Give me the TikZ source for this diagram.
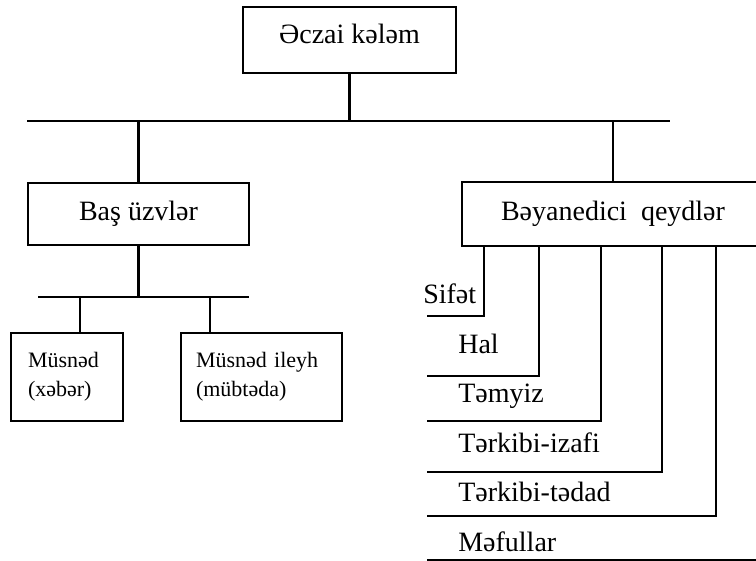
\documentclass[tikz,border=0pt]{standalone}
\usepackage{fontspec}
\setmainfont{Liberation Serif}
\usetikzlibrary{calc}

\begin{document}
\begin{tikzpicture}[x=0.5pt, y=-0.5pt, line width=1.3pt,
    box/.style={rectangle, draw, inner sep=0pt, font=\fontsize{14pt}{17pt}\selectfont},
    smallbox/.style={rectangle, draw, align=left, inner ysep=0pt, font=\fontsize{11pt}{14.5pt}\selectfont},
    lbl/.style={inner sep=0pt, anchor=base west, font=\fontsize{14pt}{17pt}\selectfont}]
    \clip (0,0) rectangle (756,561);

    \node[box, minimum width=106.5pt, minimum height=33pt, text depth=6pt] (top) at (349.5,40) {Əczai kələm};
    \coordinate (barL) at (27,121);
    \coordinate (barR) at (670,121);
    \draw (barL) -- (barR);
    \draw (top.south) -- (top.south |- barL);

    % left branch
    \node[box, minimum width=110.5pt, minimum height=31pt] (bas) at (138.5,214) {Baş üzvlər};
    \draw (bas.north) -- (bas.north |- barL);
    \coordinate (subL) at (38,297);
    \coordinate (subR) at (249,297);
    \draw (subL) -- (subR);
    \draw (bas.south) -- (bas.south |- subL);

    \node[smallbox, text width=39pt, inner xsep=8.5pt, minimum height=44pt] (mus) at (67,377) {Müsnəd\\(xəbər)};
    \node[smallbox, text width=65.5pt, inner xsep=7.5pt, minimum height=44pt] (ileyh) at (261.5,377) {Müsnəd ileyh\\(mübtəda)};
    \draw (80,0 |- subL) -- (80,0 |- mus.north);
    \draw (210,0 |- subL) -- (210,0 |- ileyh.north);

    % right branch
    \node[box, minimum width=151pt, minimum height=32pt] (bey) at (613,214) {Bəyanedici\ \ qeydlər};
    \draw (bey.north) -- (bey.north |- barL);

    \node[lbl] (sifet) at (422,304) {Sifət};
    \node[lbl] (hal) at (457,354) {Hal};
    \node[lbl] (temyiz) at (457,403) {Təmyiz};
    \node[lbl] (izafi) at (457,453) {Tərkibi-izafi};
    \node[lbl] (tedad) at (457,502) {Tərkibi-tədad};
    \node[lbl] (meful) at (457,552) {Məfullar};

    \foreach \x/\y [count=\i] in {484/316, 539/376, 601/421, 662/472, 716/516} {
        \coordinate (end\i) at (427,\y);
        \draw (\x,0 |- bey.south) |- (end\i);
    }
    \coordinate (end6) at (427,560);
    \draw (end6) -- (end6 -| bey.east);
\end{tikzpicture}
\end{document}
